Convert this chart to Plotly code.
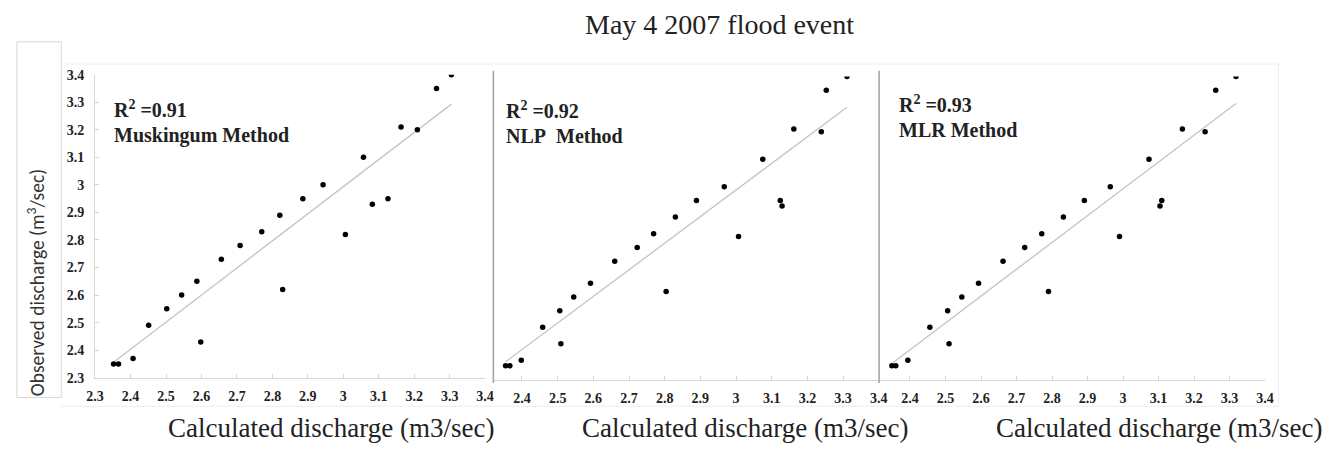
import numpy as np
import plotly.graph_objects as go

# ---------------- data ----------------
observed = [2.35, 2.35, 2.37, 2.43, 2.49, 2.55, 2.60, 2.62, 2.65, 2.73, 2.78, 2.82,
            2.83, 2.89, 2.93, 2.95, 2.95, 3.00, 3.10, 3.20, 3.21, 3.35, 3.40]
calc_muskingum = [2.352, 2.366, 2.407, 2.598, 2.451, 2.502, 2.544, 2.829, 2.587, 2.656, 2.709, 3.006,
                  2.770, 2.821, 3.082, 2.886, 3.126, 2.943, 3.057, 3.209, 3.163, 3.263, 3.305]
calc_nlp = [2.354, 2.366, 2.398, 2.509, 2.458, 2.506, 2.545, 2.804, 2.592, 2.660, 2.723, 3.007,
            2.769, 2.830, 3.129, 2.889, 3.124, 2.967, 3.075, 3.239, 3.162, 3.253, 3.311]
calc_mlr = [2.349, 2.360, 2.394, 2.510, 2.456, 2.506, 2.546, 2.790, 2.593, 2.662, 2.723, 2.990,
            2.771, 2.832, 3.104, 2.891, 3.109, 2.964, 3.073, 3.231, 3.167, 3.261, 3.318]
r2_values = ["0.91", "0.92", "0.93"]
method_names = ["Muskingum Method", "NLP\u00a0\u00a0Method", "MLR Method"]
x_tick_vals = [2.3, 2.4, 2.5, 2.6, 2.7, 2.8, 2.9, 3.0, 3.1, 3.2, 3.3, 3.4]
x_tick_text = ["2.3", "2.4", "2.5", "2.6", "2.7", "2.8", "2.9", "3", "3.1", "3.2", "3.3", "3.4"]
y_tick_vals = [2.3, 2.4, 2.5, 2.6, 2.7, 2.8, 2.9, 3.0, 3.1, 3.2, 3.3, 3.4]
y_tick_text = ["2.3", "2.4", "2.5", "2.6", "2.7", "2.8", "2.9", "3", "3.1", "3.2", "3.3", "3.4"]
title_text = "May 4 2007 flood event"
x_title = "Calculated discharge (m3/sec)"
y_title = "Observed discharge (m<sup>3</sup>/sec)"

# ---------------- layout helpers ----------------
W, H = 1333, 450
def fx(p):
    return p / W
def fy(p):
    return 1 - p / H

SERIF = "Liberation Serif, Times New Roman, serif"
panels = [calc_muskingum, calc_nlp, calc_mlr]
axis_ids = [("x", "y"), ("x2", "y2"), ("x3", "y3")]

fig = go.Figure()
for calc, (xa, ya) in zip(panels, axis_ids):
    xs = np.array(calc)
    ys = np.array(observed)
    slope, intercept = np.polyfit(xs, ys, 1)
    xl = np.array([xs.min(), xs.max()])
    fig.add_trace(go.Scatter(x=xl, y=slope * xl + intercept, mode="lines",
                             line=dict(color="#c4c4c4", width=1.3),
                             xaxis=xa, yaxis=ya, showlegend=False, hoverinfo="skip"))
    fig.add_trace(go.Scatter(x=calc, y=observed, mode="markers",
                             marker=dict(color="#000000", size=5.5),
                             xaxis=xa, yaxis=ya, showlegend=False))

bold_x = ["<b>" + t + "</b>" for t in x_tick_text]
bold_y = ["<b>" + t + "</b>" for t in y_tick_text]
tickfont = dict(family=SERIF, size=14, color="#222222")
common_x = dict(tickmode="array", tickvals=x_tick_vals, ticktext=bold_x,
                showgrid=False, zeroline=False, showline=True, linecolor="#d6d6d6",
                linewidth=1.2, ticks="inside", ticklen=4, tickcolor="#d6d6d6",
                tickfont=tickfont, ticklabelstandoff=5)

fig.update_layout(
    width=W, height=H, autosize=False,
    margin=dict(l=0, r=0, t=0, b=0),
    paper_bgcolor="white", plot_bgcolor="white",
    xaxis=dict(domain=[fx(87.3), fx(482.6)], range=[2.3, 3.4], anchor="y", **common_x),
    xaxis2=dict(domain=[fx(491), fx(882)], range=[2.3198, 3.401], anchor="y2", **common_x),
    xaxis3=dict(domain=[fx(882), fx(1273.3)], range=[2.313, 3.4], anchor="y3", **common_x),
    yaxis=dict(domain=[fy(383.5), fy(70)], range=[2.3, 3.4], anchor="x",
               tickmode="array", tickvals=y_tick_vals, ticktext=bold_y,
               showgrid=False, zeroline=False, showline=True, linecolor="#d6d6d6",
               linewidth=1.2, ticks="inside", ticklen=4, tickcolor="#d6d6d6",
               tickfont=tickfont, ticklabelstandoff=7),
    yaxis2=dict(domain=[fy(385.5), fy(72)], range=[2.3, 3.4], anchor="x2",
                showgrid=False, zeroline=False, showline=False, showticklabels=False, ticks=""),
    yaxis3=dict(domain=[fy(385.5), fy(72)], range=[2.3, 3.4], anchor="x3",
                showgrid=False, zeroline=False, showline=False, showticklabels=False, ticks=""),
)

shapes = [
    # y-title box
    dict(type="rect", xref="paper", yref="paper", x0=fx(8), x1=fx(53), y0=fy(404), y1=fy(36),
         line=dict(color="#d8d8d8", width=1)),
    # faint outer frame of the stitched image
    dict(type="line", xref="paper", yref="paper", x0=fx(53), x1=fx(1287), y0=fy(59), y1=fy(59),
         line=dict(color="#eeeeee", width=1)),
    dict(type="line", xref="paper", yref="paper", x0=fx(1287), x1=fx(1287), y0=fy(59), y1=fy(413),
         line=dict(color="#eeeeee", width=1)),
    dict(type="line", xref="paper", yref="paper", x0=fx(53), x1=fx(1287), y0=fy(413), y1=fy(413),
         line=dict(color="#eeeeee", width=1)),
    # panel separators
    dict(type="line", xref="paper", yref="paper", x0=fx(491), x1=fx(491), y0=fy(389), y1=fy(66),
         line=dict(color="#a6a6a6", width=1.6)),
    dict(type="line", xref="paper", yref="paper", x0=fx(882), x1=fx(882), y0=fy(389), y1=fy(66),
         line=dict(color="#a6a6a6", width=1.6)),
]
fig.update_layout(shapes=shapes)

ann = []
ann.append(dict(text=title_text, xref="paper", yref="paper", x=fx(720), y=fy(18),
                xanchor="center", yanchor="middle", showarrow=False,
                font=dict(family=SERIF, size=28, color="#222222")))
for cx in [326, 746.5, 1166]:
    ann.append(dict(text=x_title, xref="paper", yref="paper", x=fx(cx), y=fy(436),
                    xanchor="center", yanchor="middle", showarrow=False,
                    font=dict(family=SERIF, size=27, color="#222222")))
ann.append(dict(text=y_title, xref="paper", yref="paper", x=fx(27), y=fy(285),
                xanchor="center", yanchor="middle", showarrow=False, textangle=-90,
                font=dict(family="Calibri, Carlito, Open Sans, sans-serif", size=19.5, color="#333333")))
label_pos = [(104, 105, 133), (502, 107, 133), (900, 100, 127)]
for (lx, y1, y2), r2, name in zip(label_pos, r2_values, method_names):
    ann.append(dict(text="<b>R<sup>2</sup> =" + r2 + "</b>", xref="paper", yref="paper",
                    x=fx(lx), y=fy(y1), xanchor="left", yanchor="middle", showarrow=False,
                    font=dict(family=SERIF, size=20, color="#222222")))
    ann.append(dict(text="<b>" + name + "</b>", xref="paper", yref="paper",
                    x=fx(lx), y=fy(y2), xanchor="left", yanchor="middle", showarrow=False,
                    font=dict(family=SERIF, size=20, color="#222222")))
fig.update_layout(annotations=ann)

fig.write_html("out.html")
